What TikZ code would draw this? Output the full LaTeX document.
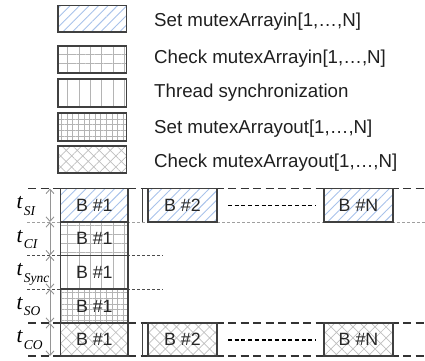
\documentclass[tikz,border=0pt]{standalone}
\usepackage{fontspec}
\setmainfont{Liberation Sans}
\newfontfamily\tserif{Liberation Serif}
\usetikzlibrary{patterns.meta,arrows.meta}

\definecolor{edge}{HTML}{404040}
\definecolor{hatchblue}{HTML}{A8C2EA}
\definecolor{gridgray}{HTML}{B4B4B4}
\definecolor{dimgray}{HTML}{959595}

% time label t_{sub}
\newcommand{\tlab}[1]{{\tserif\itshape\fontsize{21.5}{22}\selectfont t}\kern1.2pt\raisebox{-6.5pt}{\tserif\itshape\fontsize{13.5}{14}\selectfont #1}}

\tikzset{
  cell/.style={draw=edge, line width=1.1pt, inner sep=0pt, text=black!85,
    font=\fontsize{17.8}{20}\selectfont},
  legbox/.style={draw=edge, line width=1.1pt, inner sep=0pt,
    minimum width=68.5pt},
  legtext/.style={anchor=base west, inner sep=0pt, text=black!88,
    font=\fontsize{18.7}{20}\selectfont},
  setin/.style={pattern={Lines[angle=45,distance=6.7pt,line width=0.9pt]},
    pattern color=hatchblue},
  checkin/.style={preaction={pattern={Lines[angle=0,distance=9pt,line width=0.9pt]},
      pattern color=gridgray},
    pattern={Lines[angle=90,distance=11.3pt,line width=0.9pt]}, pattern color=gridgray},
  syncpat/.style={pattern={Lines[angle=90,distance=11.3pt,line width=0.9pt]},
    pattern color=gridgray},
  setout/.style={pattern={Hatch[angle=0,distance=5.6pt,line width=0.7pt]},
    pattern color=gridgray},
  checkout/.style={pattern={Hatch[angle=45,distance=7.8pt,line width=0.7pt]},
    pattern color=gridgray!85},
  thickdash/.style={draw=black!80, line width=1.4pt, dash pattern=on 8pt off 4.5pt},
  thindash/.style={draw=gray!75, line width=0.8pt, dash pattern=on 3pt off 2pt},
  dotsep/.style={draw=black, line width=1.5pt, dash pattern=on 4pt off 2.7pt},
  dimline/.style={draw=dimgray, line width=0.9pt,
    {Straight Barb[length=4.5pt,width=8pt]}-{Straight Barb[length=4.5pt,width=8pt]}},
  tlabel/.style={anchor=base west, inner sep=0pt},
}

\begin{document}
\begin{tikzpicture}[x=1pt, y=-1pt]
\useasboundingbox (0,0) rectangle (425,360);

% ---------- legend ----------
\node[legbox, setin,    minimum height=26.3pt] (k1) at (92.25,18.85) {};
\node[legbox, checkin,  minimum height=27pt]   (k2) at (92.25,59.5) {};
\node[legbox, syncpat,  minimum height=28pt]   (k3) at (92.25,93) {};
\node[legbox, setout,   minimum height=28pt]   (k4) at (92.25,127) {};
\node[legbox, checkout, minimum height=27pt]   (k5) at (92.25,159.5) {};

\node[legtext] (l1) at (154,26.5) {Set mutexArrayin[1,…,N]};
\node[legtext] (l2) at (154,63.8) {Check mutexArrayin[1,…,N]};
\node[legtext] (l3) at (154,97)   {Thread synchronization};
\node[legtext] (l4) at (154,133)  {Set mutexArrayout[1,…,N]};
\node[legtext] (l5) at (154,167)  {Check mutexArrayout[1,…,N]};

% ---------- phase boundaries ----------
\coordinate (a0) at (28,188.5);  \coordinate (b0) at (425,188.5);
\coordinate (a1) at (27,222);    \coordinate (b1) at (425,222);
\coordinate (a2) at (27,255.5);  \coordinate (b2) at (163,255.5);
\coordinate (a3) at (27,289);    \coordinate (b3) at (163,289);
\coordinate (a4) at (28,323);    \coordinate (b4) at (425,323);
\coordinate (a5) at (28,356);    \coordinate (b5) at (425,356);

\draw[thindash] (a1) -- (b1);
\draw[thindash, draw=black!70] (a2) -- (b2);
\draw[thindash, draw=black!70] (a3) -- (b3);
\draw[thickdash] (a0) -- (b0);
\draw[thickdash] (a4) -- (b4);
\draw[thickdash] (a5) -- (b5);

% ---------- block #1 through all phases ----------
\node[cell, setin,    minimum width=67.3pt, minimum height=33.5pt] (s1) at (94.35,205.25) {B \#1};
\node[cell, checkin,  minimum width=67.3pt, minimum height=33.5pt] (c1) at (94.35,238.75) {B \#1};
\node[cell, syncpat,  minimum width=67.3pt, minimum height=33.5pt] (y1) at (94.35,272.25) {B \#1};
\node[cell, setout,   minimum width=67.3pt, minimum height=34pt]   (o1) at (94.35,306)    {B \#1};
\node[cell, checkout, minimum width=67.3pt, minimum height=33pt]   (x1) at (94.35,339.5)  {B \#1};

% ---------- blocks #2 and #N ----------
\node[cell, setin,    minimum width=69pt, minimum height=33.5pt] (s2) at (182.5,205.25) {B \#2};
\node[cell, checkout, minimum width=69pt, minimum height=33pt]   (x2) at (182.5,339.5)  {B \#2};
\node[cell, setin,    minimum width=69pt, minimum height=33.5pt] (sN) at (358.5,205.25) {B \#N};
\node[cell, checkout, minimum width=69pt, minimum height=33pt]   (xN) at (358.5,339.5)  {B \#N};

% markers in front of block #2
\coordinate (m1) at (142,188.5); \coordinate (m2) at (142,222);
\coordinate (m3) at (142,323);   \coordinate (m4) at (142,356);
\draw[edge, line width=0.9pt] (m1) -- (m2);
\draw[edge, line width=0.9pt] (m3) -- (m4);

% elision between block #2 and block #N
\coordinate (e1) at (228,205.5); \coordinate (e2) at (316,205.5);
\coordinate (e3) at (228,340);   \coordinate (e4) at (316,340);
\draw[dotsep] (e1) -- (e2);
\draw[dotsep] (e3) -- (e4);

% ---------- duration markers ----------
\coordinate (d0) at (50,188.5);
\coordinate (d1) at (50,222);
\coordinate (d2) at (50,255.5);
\coordinate (d3) at (50,289);
\coordinate (d4) at (50,323);
\coordinate (d5) at (50,356);
\draw[dimline] (d0) -- (d1);
\draw[dimline] (d1) -- (d2);
\draw[dimline] (d2) -- (d3);
\draw[dimline] (d3) -- (d4);
\draw[dimline] (d4) -- (d5);

\node[tlabel] (tsi)   at (16.5,208.5) {\tlab{SI}};
\node[tlabel] (tci)   at (16.5,242)   {\tlab{CI}};
\node[tlabel] (tsync) at (16.5,275.5) {\tlab{Sync}};
\node[tlabel] (tso)   at (16.5,309.3) {\tlab{SO}};
\node[tlabel] (tco)   at (16.5,342.8) {\tlab{CO}};
\end{tikzpicture}
\end{document}
